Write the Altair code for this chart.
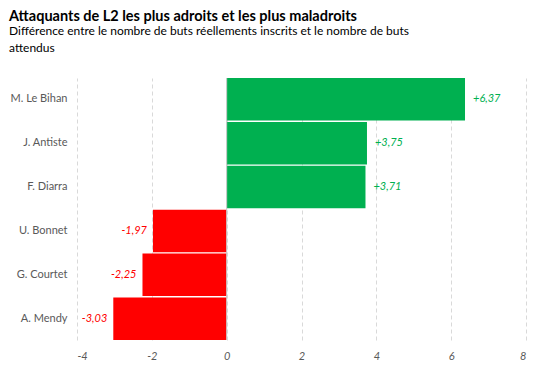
import altair as alt
import pandas as pd

players = ["M. Le Bihan", "J. Antiste", "F. Diarra", "U. Bonnet", "G. Courtet", "A. Mendy"]
values = [6.37, 3.75, 3.71, -1.97, -2.25, -3.03]
labels = ["+6,37", "+3,75", "+3,71", "-1,97", "-2,25", "-3,03"]
x_ticks = [-4, -2, 0, 2, 4, 6, 8]

df = pd.DataFrame({"player": players, "value": values, "label": labels})
df["sign"] = ["pos" if v >= 0 else "neg" for v in values]

GREEN = "#00B050"
RED = "#FF0000"

xscale = alt.Scale(domain=[-4, 8], nice=False, zero=False)
yenc = alt.Y("player:N", sort=players, title=None,
             scale=alt.Scale(paddingInner=0.03, paddingOuter=0),
             axis=alt.Axis(domain=False, ticks=False, labelColor="#595959",
                           labelFontSize=11, labelPadding=10, labelFont="Lato"))

base = alt.Chart(df)

bars = base.mark_bar().encode(
    x=alt.X("value:Q", scale=xscale, title=None,
            axis=alt.Axis(values=x_ticks, domain=False, ticks=False, grid=True,
                          gridDash=[4, 3], gridColor="#D9D9D9",
                          labelExpr="datum.value < 0 ? '-' + abs(datum.value) : '' + datum.value",
                          labelColor="#595959", labelFontSize=11, labelFontStyle="italic",
                          labelFont="Lato", labelPadding=10)),
    x2=alt.datum(0),
    y=yenc,
    color=alt.Color("sign:N", scale=alt.Scale(domain=["pos", "neg"], range=[GREEN, RED]), legend=None),
)

zero = alt.Chart(pd.DataFrame({"z": [0]})).mark_rule(color="#C8C8C8", strokeWidth=1).encode(
    x=alt.X("z:Q", scale=xscale)
)

pos_text = base.transform_filter(alt.datum.value >= 0).mark_text(
    align="left", dx=8, fontStyle="italic", fontSize=11, font="Lato", color=GREEN
).encode(x=alt.X("value:Q", scale=xscale), y=alt.Y("player:N", sort=players), text="label:N")

neg_text = base.transform_filter(alt.datum.value < 0).mark_text(
    align="right", dx=-6, fontStyle="italic", fontSize=11, font="Lato", color=RED
).encode(x=alt.X("value:Q", scale=xscale), y=alt.Y("player:N", sort=players), text="label:N")

chart = alt.layer(bars, zero, pos_text, neg_text).properties(
    width=449, height=262,
    autosize="none",
    padding={"left": 69, "top": 70, "right": 10, "bottom": 23},
    title=alt.TitleParams(
        text="Attaquants de L2 les plus adroits et les plus maladroits",
        subtitle=["Différence entre le nombre de buts réellements inscrits et le nombre de buts", "attendus"],
        anchor="start", frame="group", dx=-68, offset=23,
        font="Lato", fontSize=14.5, fontWeight="bold", color="#000000",
        subtitleFont="Lato", subtitleFontSize=12, subtitleColor="#000000",
        subtitlePadding=1, subtitleLineHeight=17,
    ),
).configure_view(stroke=None)

chart.save("out.html", embed_options={"renderer": "svg", "actions": False})
